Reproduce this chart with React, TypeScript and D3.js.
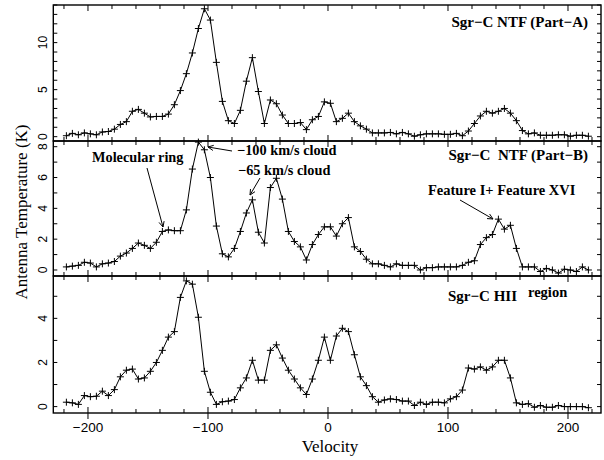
import React from "react";
import * as d3 from "d3";

const velocities = [
  -218, -213, -208, -203, -198, -193, -188, -183, -178, -173, -168, -163, -158, -153, -148, -143,
  -138, -133, -128, -123, -118, -113, -108, -103, -98, -93, -88, -83, -78, -73, -68, -63, -58,
  -53, -48, -43, -38, -33, -28, -23, -18, -13, -8, -3, 2, 7, 12, 17, 22, 27, 32, 37, 42, 47,
  52, 57, 62, 67, 72, 77, 82, 87, 92, 97, 102, 107, 112, 117, 122, 127, 132, 137, 142, 147,
  152, 157, 162, 167, 172, 177, 182, 187, 192, 197, 202, 207, 212, 217,
];

const partA = [
  0.1, 0.35, 0.2, 0.4, 0.3, 0.2, 0.5, 0.55, 0.8, 1.3, 1.6, 2.7, 2.9, 2.5, 2.1, 2.15, 2.15, 2.4,
  3.4, 4.9, 6.7, 8.9, 11.5, 13.6, 12.4, 7.9, 3.75, 1.7, 1.4, 2.8, 5.9, 8.4, 4.8, 1.4, 3.9, 3.5,
  2.3, 1.4, 1.4, 1.5, 0.75, 1.8, 2.15, 3.7, 3.55, 1.6, 1.95, 2.5, 1.6, 1.15, 0.8, 0.4, 0.4, 0.4,
  0.45, 0.3, 0.45, 0.3, 0.05, 0.2, 0.3, 0.3, 0.3, 0.25, 0.25, 0.35, 0.1, 0.6, 1.4, 2.2, 2.7, 2.5,
  2.7, 3.0, 2.5, 1.7, 0.65, 0.3, 0.4, 0.15, 0.15, 0.15, 0.2, 0.2, 0.05, 0.15, 0.15, 0.05,
];

const partB = [
  0.2, 0.25, 0.3, 0.5, 0.45, 0.2, 0.4, 0.45, 0.55, 0.9, 1.1, 1.4, 1.75, 1.6, 1.4, 1.8, 2.5, 2.6,
  2.55, 2.55, 3.9, 6.55, 8.3, 7.8, 6.0, 2.85, 1.05, 0.85, 1.4, 2.5, 3.7, 4.55, 2.45, 1.75, 5.35,
  5.95, 4.6, 2.5, 1.85, 1.5, 0.65, 1.65, 2.3, 2.8, 2.8, 2.2, 3.0, 3.4, 1.5, 1.2, 0.7, 0.4, 0.4,
  0.3, 0.2, 0.4, 0.3, 0.3, 0.3, 0.0, 0.15, 0.15, 0.2, 0.2, 0.2, 0.2, 0.3, 0.5, 0.6, 1.65, 2.1,
  2.3, 3.3, 2.65, 2.9, 1.4, 0.2, 0.2, 0.2, -0.1, 0.1, 0.0, -0.2, 0.05, 0.0, -0.1, 0.2, 0.0,
];

const hiiRegion = [
  0.2, 0.17, 0.1, 0.5, 0.45, 0.47, 0.7, 0.5, 0.77, 1.35, 1.65, 1.7, 1.25, 1.3, 1.6, 2.0, 2.55,
  3.15, 3.4, 4.95, 5.7, 5.55, 4.05, 1.6, 0.65, 0.1, 0.22, 0.25, 0.32, 0.85, 1.3, 2.1, 1.2, 1.2,
  2.55, 2.8, 2.2, 1.65, 1.25, 0.85, 0.55, 1.25, 2.1, 3.15, 2.1, 3.2, 3.55, 3.4, 2.35, 1.35, 0.95,
  0.45, 0.2, 0.3, 0.35, 0.32, 0.25, 0.25, 0.05, 0.2, 0.1, 0.2, 0.2, 0.17, 0.35, 0.45, 0.75, 1.75,
  1.7, 1.8, 1.65, 1.8, 2.1, 2.1, 1.3, 0.17, 0.1, 0.13, -0.03, 0.05, -0.03, -0.03, 0.05, 0.0, 0.0,
  0.0, 0.0, -0.05,
];

const xTickLabels = [-200, -100, 0, 100, 200];
const yLabelsA = [0, 5, 10];
const yLabelsB = [0, 2, 4, 6, 8];
const yLabelsC = [0, 2, 4];

const X_LEFT = 53.3;
const X_RIGHT = 601;
const SANS = "'Liberation Sans', Arial, Helvetica, sans-serif";
const SERIF = "'Liberation Serif', 'Times New Roman', Times, serif";

const x = d3.scaleLinear().domain([-228.9, 227.5]).range([X_LEFT, X_RIGHT]);

const panels = [
  { values: partA, top: 5, bottom: 141, domain: [-0.46, 14.0], labels: yLabelsA },
  { values: partB, top: 141, bottom: 276, domain: [-0.39, 8.37], labels: yLabelsB },
  { values: hiiRegion, top: 276, bottom: 413, domain: [-0.29, 5.92], labels: yLabelsC },
];

const xMinorTicks = d3.range(-220, 221, 20);

function Arrow({ x1, y1, x2, y2 }: { x1: number; y1: number; x2: number; y2: number }) {
  const ang = Math.atan2(y2 - y1, x2 - x1);
  const len = 6;
  const spread = 0.45;
  const a1 = [x2 - len * Math.cos(ang - spread), y2 - len * Math.sin(ang - spread)];
  const a2 = [x2 - len * Math.cos(ang + spread), y2 - len * Math.sin(ang + spread)];
  return (
    <g stroke="#000" strokeWidth={1} fill="none">
      <line x1={x1} y1={y1} x2={x2} y2={y2} />
      <polyline points={`${a1[0]},${a1[1]} ${x2},${y2} ${a2[0]},${a2[1]}`} />
    </g>
  );
}

function Panel({ p, isBottom }: { p: (typeof panels)[number]; isBottom: boolean }) {
  const y = d3.scaleLinear().domain(p.domain).range([p.bottom, p.top]);
  const line = d3
    .line<number>()
    .x((_, i) => x(velocities[i]))
    .y((d) => y(d));
  const yTicks = d3.range(Math.ceil(p.domain[0]), Math.floor(p.domain[1]) + 1, 1);
  return (
    <g>
      <path d={line(p.values) || ""} fill="none" stroke="#000" strokeWidth={1} />
      <g stroke="#000" strokeWidth={1}>
        {p.values.map((d, i) => {
          const cx = x(velocities[i]);
          const cy = y(d);
          return (
            <g key={i}>
              <line x1={cx - 3.5} x2={cx + 3.5} y1={cy} y2={cy} />
              <line x1={cx} x2={cx} y1={cy - 3.5} y2={cy + 3.5} />
            </g>
          );
        })}
      </g>
      <g stroke="#000" strokeWidth={1}>
        {xMinorTicks.map((t) => {
          const len = t % 100 === 0 ? 6 : 4;
          return (
            <g key={t}>
              <line x1={x(t)} x2={x(t)} y1={p.top} y2={p.top + len} />
              <line x1={x(t)} x2={x(t)} y1={p.bottom} y2={p.bottom - len} />
            </g>
          );
        })}
        {yTicks.map((t) => (
          <g key={t}>
            <line x1={X_LEFT} x2={X_LEFT + 4} y1={y(t)} y2={y(t)} />
            <line x1={X_RIGHT} x2={X_RIGHT - 4} y1={y(t)} y2={y(t)} />
          </g>
        ))}
        {isBottom &&
          xTickLabels.map((t) => (
            <line key={t} x1={x(t)} x2={x(t)} y1={p.bottom} y2={p.bottom + 6} />
          ))}
      </g>
      {p.labels.map((t) => (
        <text
          key={t}
          transform={`translate(43,${y(t)}) rotate(-90)`}
          textAnchor="middle"
          dy="0.35em"
          fontFamily={SANS}
          fontSize={12}
        >
          {String(t)}
        </text>
      ))}
      <rect
        x={X_LEFT}
        y={p.top}
        width={X_RIGHT - X_LEFT}
        height={p.bottom - p.top}
        fill="none"
        stroke="#000"
        strokeWidth={1.4}
      />
    </g>
  );
}

export default function App() {
  const bold = { fontFamily: SERIF, fontWeight: 700 as const };
  return (
    <svg width={604} height={460} style={{ position: "absolute", left: 0, top: 0 }}>
      <rect width={604} height={460} fill="#fff" />
      {panels.map((p, i) => (
        <Panel key={i} p={p} isBottom={i === panels.length - 1} />
      ))}
      {xTickLabels.map((t) => (
        <text key={t} x={x(t)} y={432} textAnchor="middle" fontFamily={SANS} fontSize={13.5}>
          {t < 0 ? `\u2212${Math.abs(t)}` : String(t)}
        </text>
      ))}
      <text x={330} y={452} textAnchor="middle" fontFamily={SERIF} fontSize={17}>
        Velocity
      </text>
      <text
        transform="translate(21,212) rotate(-90)"
        textAnchor="middle"
        dy="0.35em"
        fontFamily={SERIF}
        fontSize={17}
      >
        Antenna Temperature (K)
      </text>

      <text x={588} y={27} textAnchor="end" fontSize={15} {...bold}>
        Sgr{"\u2212"}C NTF (Part{"\u2212"}A)
      </text>
      <text x={588} y={160} textAnchor="end" fontSize={15} {...bold} xmlSpace="preserve">
        Sgr{"\u2212"}C{"\u00a0\u00a0"}NTF (Part{"\u2212"}B)
      </text>
      <text x={428} y={195} fontSize={14.5} {...bold}>
        Feature I+ Feature XVI
      </text>
      <text x={92} y={162} fontSize={14.3} {...bold}>
        Molecular ring
      </text>
      <text x={237} y={155} fontSize={14.3} {...bold}>
        {"\u2212"}100 km/s cloud
      </text>
      <text x={238} y={175} fontSize={14.3} {...bold}>
        {"\u2212"}65 km/s cloud
      </text>
      <text x={448} y={301} fontSize={15} {...bold}>
        Sgr{"\u2212"}C HII
      </text>
      <text x={528} y={297} fontSize={14.5} {...bold}>
        region
      </text>

      <Arrow x1={147} y1={168} x2={163} y2={227} />
      <Arrow x1={232} y1={151} x2={208} y2={147} />
      <Arrow x1={260} y1={178} x2={250} y2={195} />
      <Arrow x1={460} y1={200} x2={493} y2={219} />
    </svg>
  );
}
